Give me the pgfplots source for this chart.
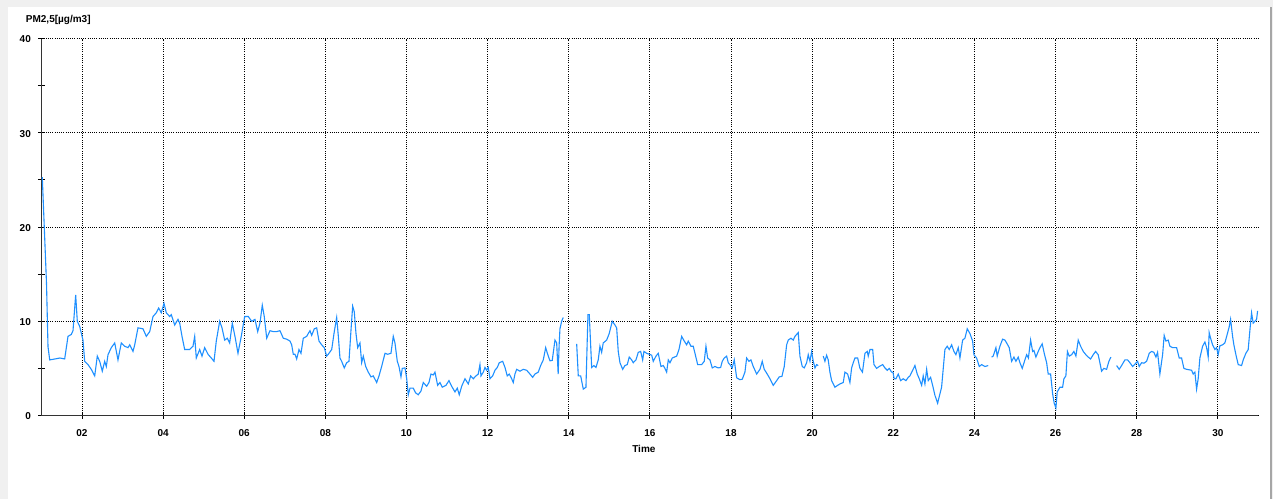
\documentclass[border=0pt]{standalone}
\usepackage{fontspec}
\setmainfont{Liberation Sans}
\usepackage{pgfplots}
\pgfplotsset{compat=1.18}
\definecolor{pmblue}{RGB}{30,144,255}
\definecolor{framegray}{RGB}{240,240,240}
\newcommand{\lbl}{\bfseries\fontsize{10}{12}\selectfont}
\begin{document}
\begin{tikzpicture}
% panel background with the light frame
\fill[framegray] (-41.4pt,-83.5pt) rectangle (1231.6pt,415.5pt);
\fill[white] (-33.4pt,-83.5pt) rectangle (1228.6pt,408.5pt);
\fill[black!35] (1228.6pt,-83.5pt) rectangle (1230.6pt,408.5pt);
\begin{axis}[
  name=ax,
  scale only axis, width=1217pt, height=377pt,
  xmin=1, xmax=31, ymin=0, ymax=40,
  axis lines=left,
  axis line style={-, black!80, line width=1.2pt},
  xtick={2,4,...,30},
  xticklabels={02,04,06,08,10,12,14,16,18,20,22,24,26,28,30},
  ytick={0,10,20,30,40}, minor ytick={5,15,25,35},
  grid=major,
  major grid style={black, line width=0.8pt, dash pattern=on 1pt off 1.2pt},
  tick align=center, major tick length=6pt, minor tick length=7pt,
  tick style={black, line width=0.8pt},
  ticklabel style={font=\lbl},
  xticklabel style={yshift=-6pt},
  yticklabel style={xshift=-4pt, yshift=-2pt},
  typeset ticklabels with strut,
  /pgf/number format/assume math mode=true,
  unbounded coords=jump,
]
\addplot[pmblue, line width=1.1pt, mark=none] coordinates {
(1.022,25.3)(1.126,14.0)(1.163,7.3)(1.205,5.9)(1.335,6.0)(1.458,6.1)(1.574,6.0)(1.656,8.4)(1.737,8.6)(1.779,9.0)
(1.845,12.8)(1.885,10.0)(1.944,9.45)(2.025,8.0)(2.067,5.75)(2.149,5.4)(2.230,4.9)(2.314,4.2)(2.378,6.3)(2.437,5.75)
(2.501,4.7)(2.560,5.75)(2.600,5.2)(2.642,6.45)(2.723,7.2)(2.807,7.7)(2.888,5.9)(2.970,7.7)(3.053,7.35)(3.135,7.2)
(3.177,7.5)(3.258,6.8)(3.300,7.5)(3.381,9.3)(3.504,9.2)(3.586,8.4)(3.670,8.9)(3.751,10.5)(3.832,10.9)(3.891,11.4)
(3.955,10.9)(4.022,11.9)(4.079,10.9)(4.163,10.5)(4.202,10.7)(4.286,9.6)(4.367,10.2)(4.409,9.8)(4.466,8.4)(4.532,7.0)
(4.655,7.0)(4.737,7.35)(4.779,8.4)(4.818,6.1)(4.902,7.0)(4.959,6.3)(5.025,7.2)(5.107,6.5)(5.188,6.1)(5.255,5.75)
(5.311,7.9)(5.395,10.0)(5.452,9.3)(5.518,8.0)(5.582,8.2)(5.641,7.7)(5.706,9.8)(5.780,8.2)(5.846,6.6)(5.927,8.4)
(6.011,10.5)(6.100,10.5)(6.184,10.0)(6.265,10.2)(6.332,8.9)(6.388,9.8)(6.445,11.7)(6.494,10.5)(6.554,8.2)(6.635,9.0)
(6.716,8.9)(6.800,8.9)(6.881,9.0)(6.963,8.2)(7.046,8.1)(7.128,7.9)(7.170,7.5)(7.209,6.5)(7.251,6.5)(7.293,6.0)
(7.350,7.0)(7.399,6.6)(7.456,8.2)(7.540,8.4)(7.579,8.7)(7.621,9.0)(7.663,8.5)(7.727,9.2)(7.786,9.3)(7.843,7.9)
(7.909,7.5)(7.973,7.2)(8.032,6.3)(8.072,6.5)(8.156,7.0)(8.220,8.9)(8.279,10.4)(8.318,8.5)(8.360,6.1)(8.402,5.75)
(8.466,5.05)(8.525,5.6)(8.582,5.75)(8.631,9.0)(8.673,11.6)(8.713,11.0)(8.755,8.7)(8.797,7.2)(8.853,7.7)(8.895,5.6)
(8.935,6.3)(8.994,5.2)(9.058,4.6)(9.125,4.1)(9.181,4.2)(9.265,3.5)(9.322,4.2)(9.388,5.2)(9.470,6.6)(9.536,6.5)
(9.617,6.6)(9.674,8.4)(9.716,7.7)(9.773,5.75)(9.815,5.2)(9.864,4.1)(9.896,5.0)(9.963,5.05)(10.005,3.9)(10.044,2.2)
(10.086,2.9)(10.167,2.9)(10.226,2.4)(10.290,2.2)(10.357,2.6)(10.414,3.5)(10.497,3.1)(10.554,3.5)(10.603,4.4)(10.660,4.3)
(10.702,4.6)(10.768,3.2)(10.825,3.5)(10.882,3.0)(10.973,3.2)(11.047,3.7)(11.114,3.1)(11.195,2.5)(11.252,2.9)(11.301,2.2)
(11.360,3.1)(11.442,3.9)(11.523,3.35)(11.582,4.2)(11.646,3.9)(11.713,4.2)(11.769,4.4)(11.811,5.4)(11.836,4.2)(11.893,4.6)
(11.935,5.1)(11.976,4.8)(12.016,5.1)(12.058,3.9)(12.124,4.2)(12.181,4.8)(12.238,5.1)(12.287,5.6)(12.371,5.75)(12.428,5.1)
(12.484,4.2)(12.533,4.4)(12.593,3.9)(12.632,3.5)(12.674,4.4)(12.716,4.9)(12.797,4.7)(12.878,4.9)(12.962,4.8)(13.044,4.4)
(13.110,4.05)(13.167,4.4)(13.248,4.6)(13.307,5.3)(13.372,5.9)(13.431,7.2)(13.480,6.5)(13.537,5.8)(13.593,5.85)(13.660,8.0)
(13.702,7.7)(13.739,4.4)(13.763,7.5)(13.783,9.2)(13.825,10.0)(13.864,10.4)
(14.0,nan)
(14.195,7.6)(14.235,4.2)(14.294,4.2)(14.358,2.8)(14.424,3.0)(14.473,10.7)(14.506,10.7)(14.565,5.1)(14.621,5.3)(14.671,5.1)
(14.727,5.9)(14.769,7.35)(14.811,6.7)(14.850,7.7)(14.934,8.0)(14.998,8.7)(15.072,10.0)(15.139,9.6)(15.181,9.3)(15.220,6.8)
(15.262,5.6)(15.329,4.9)(15.385,5.3)(15.442,5.4)(15.491,6.2)(15.550,5.9)(15.590,5.6)(15.657,5.9)(15.713,6.7)(15.772,6.8)
(15.822,5.9)(15.854,6.8)(15.920,6.6)(15.984,6.5)(16.044,6.4)(16.083,5.75)(16.150,6.3)(16.206,6.6)(16.273,5.2)(16.330,5.3)
(16.371,5.0)(16.413,4.6)(16.453,5.9)(16.495,5.6)(16.551,6.1)(16.660,6.3)(16.717,7.0)(16.783,8.4)(16.847,7.9)(16.906,7.5)
(16.946,7.9)(17.012,7.35)(17.069,7.35)(17.128,6.3)(17.178,5.4)(17.276,5.4)(17.340,5.75)(17.382,7.35)(17.424,6.1)(17.481,5.9)
(17.537,5.05)(17.604,5.2)(17.685,5.05)(17.744,5.1)(17.784,5.75)(17.833,6.1)(17.892,6.3)(17.932,5.6)(17.973,5.4)(18.030,5.05)
(18.080,5.9)(18.139,4.0)(18.220,3.8)(18.277,3.85)(18.343,4.6)(18.385,6.1)(18.442,5.75)(18.491,5.9)(18.548,5.2)(18.632,4.4)
(18.713,4.9)(18.770,5.75)(18.819,4.9)(18.878,4.5)(18.960,3.9)(19.041,3.2)(19.125,3.7)(19.189,4.1)(19.255,4.15)(19.312,5.2)
(19.371,7.5)(19.410,8.0)(19.477,8.2)(19.534,8.0)(19.576,8.4)(19.617,8.6)(19.657,8.8)(19.699,6.3)(19.756,5.2)(19.805,5.05)
(19.864,5.6)(19.904,6.45)(19.946,5.75)(19.987,6.8)(20.027,5.75)(20.069,5.05)(20.110,5.4)(20.150,5.3)
(20.2,nan)
(20.273,6.3)(20.315,5.75)(20.357,6.4)(20.396,5.9)(20.438,4.6)(20.480,3.7)(20.561,3.0)(20.628,3.2)(20.685,3.35)(20.766,3.5)
(20.808,4.6)(20.875,4.4)(20.931,3.5)(20.973,5.05)(21.013,5.6)(21.055,6.1)(21.122,6.1)(21.178,5.0)(21.240,4.6)(21.302,6.6)
(21.358,6.8)(21.383,6.3)(21.425,7.0)(21.492,7.0)(21.524,5.4)(21.589,5.0)(21.654,5.2)(21.738,5.4)(21.794,5.05)(21.851,4.8)
(21.900,5.0)(21.959,4.6)(21.991,4.6)(22.023,3.9)(22.065,3.9)(22.122,4.4)(22.181,3.7)(22.245,3.9)(22.312,3.7)(22.369,4.05)
(22.410,4.2)(22.477,4.8)(22.534,5.3)(22.590,4.4)(22.640,3.9)(22.699,3.2)(22.738,4.2)(22.780,3.35)(22.822,4.9)(22.862,3.7)
(22.920,4.05)(22.970,3.2)(23.026,2.15)(23.093,1.3)(23.150,2.3)(23.191,3.0)(23.273,7.0)(23.329,7.35)(23.379,7.0)(23.438,7.5)
(23.495,6.8)(23.544,6.45)(23.601,7.2)(23.643,6.1)(23.709,8.0)(23.766,8.2)(23.823,9.2)(23.889,8.7)(23.956,7.9)(23.988,6.45)
(24.054,6.1)(24.119,5.2)(24.178,5.4)(24.259,5.2)(24.340,5.3)
(24.38,nan)
(24.424,6.2)(24.463,6.3)(24.530,7.2)(24.562,6.3)(24.629,7.35)(24.695,8.1)(24.752,8.0)(24.794,7.7)(24.858,7.2)(24.917,5.75)
(24.974,6.2)(25.023,5.75)(25.080,6.2)(25.122,5.6)(25.179,5.0)(25.245,5.9)(25.287,6.45)(25.331,6.1)(25.385,8.0)(25.435,6.8)
(25.467,6.9)(25.516,6.2)(25.573,6.8)(25.615,7.2)(25.671,7.6)(25.721,6.6)(25.780,5.6)(25.819,4.4)(25.878,4.4)(25.928,2.3)
(25.967,1.3)(26.009,0.8)(26.041,2.5)(26.108,3.0)(26.174,3.0)(26.206,3.9)(26.255,4.2)(26.293,6.8)(26.337,6.3)(26.396,6.45)
(26.452,6.8)(26.502,6.3)(26.559,8.0)(26.618,7.35)(26.682,6.8)(26.748,6.45)(26.805,6.2)(26.864,6.0)(26.928,6.45)(26.987,6.8)
(27.051,6.45)(27.093,5.6)(27.135,4.7)(27.192,5.0)(27.258,4.9)(27.315,5.75)(27.364,6.2)
(27.43,nan)
(27.505,5.3)(27.569,4.9)(27.628,5.3)(27.710,5.9)(27.776,5.9)(27.833,5.6)(27.900,5.2)(27.956,5.45)(28.023,5.75)(28.062,5.2)
(28.122,5.6)(28.178,5.55)(28.245,5.75)(28.309,6.6)(28.368,6.8)(28.424,6.7)(28.474,6.2)(28.515,6.7)(28.572,4.4)(28.639,6.45)
(28.678,8.5)(28.720,7.9)(28.777,8.0)(28.819,7.35)(28.885,7.2)(28.984,7.2)(29.048,6.1)(29.107,6.1)(29.164,5.0)(29.231,4.9)
(29.295,4.85)(29.354,4.8)(29.393,4.4)(29.435,4.6)(29.477,2.8)(29.516,3.9)(29.558,6.1)(29.625,7.35)(29.682,7.8)(29.724,7.2)
(29.763,6.2)(29.787,8.8)(29.822,8.2)(29.871,7.5)(29.928,7.0)(29.970,7.2)(30.009,6.45)(30.051,7.4)(30.118,7.5)(30.174,7.7)
(30.231,8.6)(30.280,9.4)(30.315,10.2)(30.364,8.4)(30.396,7.5)(30.446,6.45)(30.503,5.4)(30.586,5.3)(30.626,5.9)(30.692,6.6)
(30.749,7.0)(30.790,9.0)(30.832,10.9)(30.872,9.8)(30.914,10.0)(30.956,10.2)(30.981,11.1)
};
\end{axis}
\node[anchor=west, font=\lbl] at ([xshift=-19pt, yshift=18.5pt]ax.north west) {PM2,5[µg/m3]};
\node[font=\lbl] at ([xshift=-6pt, yshift=-33.5pt]ax.south) {Time};
\end{tikzpicture}
\end{document}
